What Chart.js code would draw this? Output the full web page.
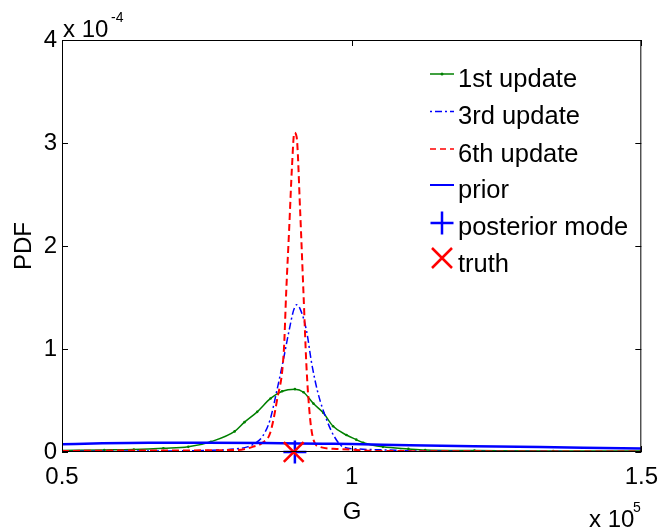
<!DOCTYPE html>
<html>
<head>
<meta charset="utf-8">
<script src="https://cdn.jsdelivr.net/npm/chart.js@4/dist/chart.umd.min.js"></script>
<style>
html,body{margin:0;padding:0;background:#fff;}
canvas{display:block;}
</style>
</head>
<body>
<canvas id="c" width="669" height="529"></canvas>
<script>
// x values in units of 1e5, PDF values in units of 1e-4 (as on the axes)
const gGreen   = [0.5,0.573,0.624,0.675,0.718,0.757,0.798,0.815,0.837,0.860,0.880,0.902,0.917,0.934,0.951,0.968,0.991,1.008,1.020,1.054,1.098,1.127,1.212,1.348,1.5];
const pdfGreen = [0.015,0.02,0.025,0.036,0.05,0.10,0.20,0.29,0.39,0.52,0.59,0.61,0.58,0.47,0.38,0.25,0.165,0.12,0.09,0.05,0.03,0.02,0.015,0.01,0.01];

const gBlue3   = [0.5,0.65,0.75,0.80,0.82,0.834,0.846,0.859,0.871,0.883,0.892,0.900,0.905,0.911,0.922,0.931,0.942,0.957,0.970,0.985,1.008,1.059,1.110,1.246,1.5];
const pdfBlue3 = [0.005,0.01,0.015,0.03,0.05,0.087,0.15,0.31,0.60,0.92,1.18,1.38,1.43,1.39,1.18,0.86,0.57,0.31,0.15,0.05,0.03,0.02,0.01,0.005,0.003];

const gRed6    = [0.5,0.65,0.803,0.829,0.846,0.859,0.871,0.883,0.887,0.892,0.897,0.901,0.905,0.911,0.917,0.922,0.928,0.934,0.945,0.974,1.008,1.042,1.5];
const pdfRed6  = [0.01,0.015,0.02,0.05,0.09,0.18,0.50,0.99,1.55,2.15,2.77,3.10,3.06,2.35,1.52,0.83,0.34,0.12,0.05,0.03,0.02,0.01,0.005];

const gPrior   = [0.5,0.57,0.65,0.75,0.85,0.95,1.0,1.1,1.25,1.4,1.5];
const pdfPrior = [0.075,0.085,0.09,0.09,0.087,0.08,0.077,0.065,0.053,0.042,0.034];

const gMode = [0.902], pdfMode = [0];
const gTruth = [0.9], pdfTruth = [0];

const xTicks = [0.5, 1, 1.5];
const yTicks = [0, 1, 2, 3, 4];
const legendLabels = ['1st update','3rd update','6th update','prior','posterior mode','truth'];

const GREEN = 'rgb(0,128,0)', BLUE = 'rgb(0,0,255)', RED = 'rgb(255,0,0)';
const FONT = "'Liberation Sans', Arial, Helvetica, sans-serif";

function pts(xs, ys){ return xs.map((x,i)=>({x:x, y:ys[i]})); }

const framePlugin = {
  id: 'frame',
  afterDraw(chart){
    const ctx = chart.ctx, a = chart.chartArea;
    const xs = chart.scales.x, ys = chart.scales.y;
    ctx.save();
    ctx.strokeStyle = '#000';
    ctx.lineWidth = 1;
    ctx.strokeRect(a.left+0.5, a.top+0.5, a.right-a.left-1, a.bottom-a.top-1);
    const tl = 6;
    ctx.beginPath();
    xTicks.forEach(v=>{
      const px = Math.round(xs.getPixelForValue(v))+0.5;
      ctx.moveTo(px, a.bottom); ctx.lineTo(px, a.bottom-tl);
      ctx.moveTo(px, a.top); ctx.lineTo(px, a.top+tl);
    });
    yTicks.forEach(v=>{
      const py = Math.round(ys.getPixelForValue(v))+0.5;
      ctx.moveTo(a.left, py); ctx.lineTo(a.left+tl, py);
      ctx.moveTo(a.right, py); ctx.lineTo(a.right-tl, py);
    });
    ctx.stroke();

    // axis titles and multipliers
    ctx.fillStyle = '#000';
    ctx.font = '24px ' + FONT;
    ctx.textAlign = 'center';
    ctx.textBaseline = 'alphabetic';
    ctx.fillText('G', 352, 519);
    ctx.save();
    ctx.translate(31, 246);
    ctx.rotate(-Math.PI/2);
    ctx.fillText('PDF', 0, 0);
    ctx.restore();
    ctx.textAlign = 'left';
    ctx.fillText('x 10', 589, 527);
    ctx.fillText('x 10', 63, 37);
    ctx.font = '14px ' + FONT;
    ctx.fillText('5', 633, 512);
    ctx.fillText('-4', 111, 22);

    // legend
    const lx0 = 430, lx1 = 454, tx = 458;
    const base = [87, 124, 161.5, 198, 235, 272];
    ctx.font = '25.5px ' + FONT;
    ctx.textAlign = 'left';
    legendLabels.forEach((t,i)=>ctx.fillText(t, tx, base[i]));
    function seg(y, color, w, dash){
      ctx.beginPath(); ctx.setLineDash(dash); ctx.strokeStyle = color; ctx.lineWidth = w;
      ctx.moveTo(lx0, y); ctx.lineTo(lx1, y); ctx.stroke(); ctx.setLineDash([]);
    }
    seg(74, GREEN, 1.5, []);
    ctx.fillStyle = GREEN; ctx.beginPath(); ctx.arc(442, 74, 1.5, 0, 2*Math.PI); ctx.fill();
    seg(111.5, BLUE, 1.5, [2,3,7,3]);
    seg(149, RED, 1.5, [6,4]);
    seg(185, BLUE, 2, []);
    ctx.strokeStyle = BLUE; ctx.lineWidth = 2.5; ctx.beginPath();
    ctx.moveTo(430.5, 223); ctx.lineTo(453.5, 223); ctx.moveTo(442, 211.5); ctx.lineTo(442, 234.5); ctx.stroke();
    ctx.strokeStyle = RED; ctx.lineWidth = 2.5; ctx.beginPath();
    ctx.moveTo(432, 248); ctx.lineTo(452, 268); ctx.moveTo(452, 248); ctx.lineTo(432, 268); ctx.stroke();
    ctx.restore();
  }
};

new Chart(document.getElementById('c'), {
  type: 'scatter',
  data: {
    datasets: [
      { label: legendLabels[0], data: pts(gGreen, pdfGreen), showLine: true, borderColor: GREEN, backgroundColor: GREEN,
        borderWidth: 1.5, pointRadius: 1.3, pointBorderWidth: 0, cubicInterpolationMode: 'monotone', order: 6 },
      { label: legendLabels[1], data: pts(gBlue3, pdfBlue3), showLine: true, borderColor: BLUE, backgroundColor: BLUE,
        borderWidth: 1.5, borderDash: [7,3,2,3], pointRadius: 0, cubicInterpolationMode: 'monotone', order: 5 },
      { label: legendLabels[2], data: pts(gRed6, pdfRed6), showLine: true, borderColor: RED, backgroundColor: RED,
        borderWidth: 2, borderDash: [7,4], pointRadius: 0, cubicInterpolationMode: 'monotone', order: 4 },
      { label: legendLabels[3], data: pts(gPrior, pdfPrior), showLine: true, borderColor: BLUE, backgroundColor: BLUE,
        borderWidth: 2.5, pointRadius: 0, cubicInterpolationMode: 'monotone', order: 3 },
      { label: legendLabels[4], data: pts(gMode, pdfMode), showLine: false, pointStyle: 'cross', pointRadius: 11.5,
        borderColor: BLUE, pointBorderWidth: 2.5, borderWidth: 2.5, clip: false, order: 2 },
      { label: legendLabels[5], data: pts(gTruth, pdfTruth), showLine: false, pointStyle: 'crossRot', pointRadius: 14,
        borderColor: RED, pointBorderWidth: 2.5, borderWidth: 2.5, clip: false, order: 1 }
    ]
  },
  options: {
    responsive: false,
    animation: false,
    events: [],
    layout: { padding: { left: 0, top: 40, right: 20, bottom: 0 } },
    plugins: { legend: { display: false }, tooltip: { enabled: false } },
    scales: {
      x: {
        type: 'linear', min: 0.5, max: 1.5,
        grid: { display: false, drawTicks: false }, border: { display: false },
        afterBuildTicks: s => { s.ticks = xTicks.map(v=>({value:v})); },
        afterFit: s => { s.height = 77; },
        ticks: { color: '#000', font: { family: FONT, size: 24 }, padding: 11, maxRotation: 0, autoSkip: false,
                 callback: v => String(v) }
      },
      y: {
        type: 'linear', min: 0, max: 4,
        grid: { display: false, drawTicks: false }, border: { display: false },
        afterBuildTicks: s => { s.ticks = yTicks.map(v=>({value:v})); },
        afterFit: s => { s.width = 62; },
        ticks: { color: '#000', font: { family: FONT, size: 24 }, padding: 5, callback: v => String(v) }
      }
    }
  },
  plugins: [framePlugin]
});
</script>
</body>
</html>
